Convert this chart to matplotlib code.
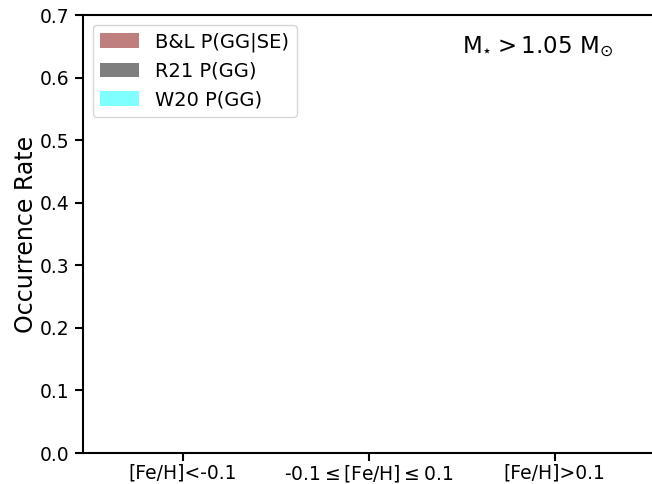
import numpy as np
import matplotlib
matplotlib.use("Agg")
import matplotlib.pyplot as plt

# Metallicity bins and occurrence rates for the high-mass sample
categories = ["[Fe/H]<-0.1", "-0.1$\\leq$[Fe/H]$\\leq$0.1", "[Fe/H]>0.1"]
bl_p_gg_se = [0.0, 0.0, 0.0]
r21_p_gg = [0.0, 0.0, 0.0]
w20_p_gg = [0.0, 0.0, 0.0]
series_labels = ["B&L P(GG|SE)", "R21 P(GG)", "W20 P(GG)"]
series_colors = ["maroon", "black", "cyan"]
yticks = [0.0, 0.1, 0.2, 0.3, 0.4, 0.5, 0.6, 0.7]

plt.rcParams["mathtext.default"] = "regular"

fig = plt.figure(figsize=(6.52, 4.84), dpi=100)
ax = fig.add_axes([0.127, 0.064, 0.877, 0.905])

x = np.arange(len(categories))
width = 0.25
for i, (vals, lab, col) in enumerate(zip([bl_p_gg_se, r21_p_gg, w20_p_gg],
                                          series_labels, series_colors)):
    ax.bar(x + (i - 1) * width, vals, width, color=col, alpha=0.5,
           label=lab)

ax.set_xlim(-0.538, 2.538)
ax.set_ylim(0, 0.7)
ax.set_xticks(x)
ax.set_xticklabels(categories, fontsize=13.5)
ax.set_yticks(yticks)
ax.set_yticklabels([f"{v:.1f}" for v in yticks], fontsize=13.5)
ax.set_ylabel("Occurrence Rate", fontsize=17, labelpad=1.5)

for s in ax.spines.values():
    s.set_linewidth(1.5)
ax.tick_params(axis="both", direction="out", length=6, width=1.5)
ax.tick_params(axis="x", pad=1.5)

ax.text(0.927, 0.925, r"$M_{\star} > 1.05\ M_{\odot}$", transform=ax.transAxes,
        ha="right", va="center", fontsize=16.5)

ax.legend(loc="upper left", fontsize=14, handlelength=2.0, handleheight=0.8,
          borderaxespad=0.5)

fig.savefig("out.png", dpi=100)
